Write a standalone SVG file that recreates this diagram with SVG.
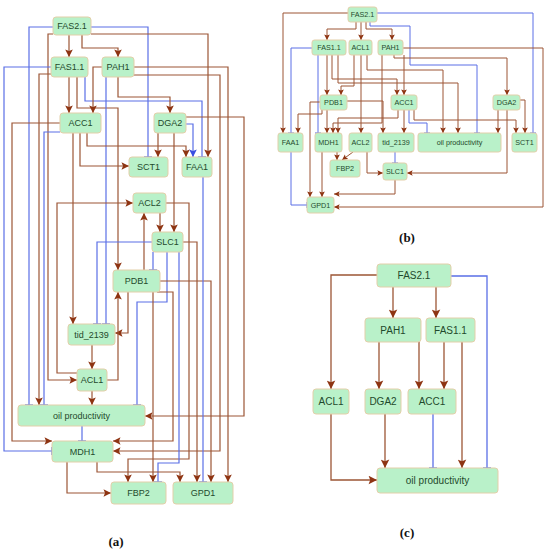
<svg xmlns="http://www.w3.org/2000/svg" width="548" height="550" viewBox="0 0 548 550">
<defs>
<marker id="arA" viewBox="-8 -4 8 8" refX="0" refY="0" markerWidth="8" markerHeight="8" markerUnits="userSpaceOnUse" orient="auto"><path d="M0,0 L-7.5,-3.8 L-6,0 L-7.5,3.8 z" fill="#8e3412"/></marker>
<marker id="tA" viewBox="-2 -5 4 10" refX="0" refY="0" markerWidth="4" markerHeight="10" markerUnits="userSpaceOnUse" orient="auto"><path d="M0,-4 V4" stroke="#4a64e0" stroke-width="1.3"/></marker>
<marker id="abA" viewBox="-8 -4 8 8" refX="0" refY="0" markerWidth="8" markerHeight="8" markerUnits="userSpaceOnUse" orient="auto"><path d="M0,0 L-7.5,-3.8 L-6,0 L-7.5,3.8 z" fill="#3a4ee0"/></marker>
<marker id="arB" viewBox="-8 -4 8 8" refX="0" refY="0" markerWidth="6" markerHeight="6" markerUnits="userSpaceOnUse" orient="auto"><path d="M0,0 L-7.5,-3.8 L-6,0 L-7.5,3.8 z" fill="#8e3412"/></marker>
<marker id="tB" viewBox="-2 -5 4 10" refX="0" refY="0" markerWidth="3" markerHeight="7.5" markerUnits="userSpaceOnUse" orient="auto"><path d="M0,-4 V4" stroke="#4a64e0" stroke-width="1.3"/></marker>
<marker id="arC" viewBox="-8 -4 8 8" refX="0" refY="0" markerWidth="9" markerHeight="9" markerUnits="userSpaceOnUse" orient="auto"><path d="M0,0 L-7.5,-3.8 L-6,0 L-7.5,3.8 z" fill="#8e3412"/></marker>
<marker id="tC" viewBox="-2 -5 4 10" refX="0" refY="0" markerWidth="4" markerHeight="11" markerUnits="userSpaceOnUse" orient="auto"><path d="M0,-4 V4" stroke="#4a64e0" stroke-width="1.3"/></marker>
</defs>
<style>
.n rect{fill:#b9f1c9;stroke:#e3cfa9;stroke-width:1}
.n text{font-family:"Liberation Sans",Arial,sans-serif;fill:#1f4a2c;text-anchor:middle;dominant-baseline:central}
.na text{font-size:9px}
.nb text{font-size:7.2px}
.nc text{font-size:10px}
.e{fill:none;stroke-width:1.2}
.br{stroke:#9c5535}
.bl{stroke:#5a6fe6}
.ga .br{marker-end:url(#arA)}
.ga .bl{marker-end:url(#tA)}
.gb .e{stroke-width:1}
.gb .br{marker-end:url(#arB)}
.gb .bl{marker-end:url(#tB)}
.gc .e{stroke-width:1.3}
.gc .br{marker-end:url(#arC)}
.gc .bl{marker-end:url(#tC)}
.lbl{font-family:"Liberation Serif","Times New Roman",serif;font-weight:bold;font-size:13px;fill:#111;text-anchor:middle}
</style>
<rect width="548" height="550" fill="#fff"/>

<!-- (a) connectors -->
<g id="connectors-a" class="ga">
<path class="e br" d="M69,35 V57"/>
<path class="e br" d="M82,35 V48 H118 V57"/>
<path class="e bl" d="M53,27 H29 V405"/>
<path class="e bl" d="M91,27 H148 V157"/>
<path class="e br" d="M91,34 H208 V157"/>
<path class="e br" d="M53,34 H48 V380 H77"/>
<path class="e br" d="M69,77 V113"/>
<path class="e bl" d="M51,67 H4 V451 H52"/>
<path class="e br" d="M51,74 H39 V405"/>
<path class="e br" d="M77,77 V108 H118 V270"/>
<path class="e bl" d="M85,77 V101 H202 V157"/>
<path class="e br" d="M102,67 H93 V113"/>
<path class="e br" d="M118,77 V97 H170 V113"/>
<path class="e bl" d="M106,77 V324"/>
<path class="e br" d="M134,67 H228 V482"/>
<path class="e br" d="M134,75 H220 V451 H113"/>
<path class="e br" d="M60,123 H12 V441 H52"/>
<path class="e bl" d="M60,132 H44 V405"/>
<path class="e br" d="M73,133 V324"/>
<path class="e br" d="M80,133 V166 H129"/>
<path class="e br" d="M87,133 V146 H186 V157"/>
<path class="e br" d="M158,133 V157"/>
<path class="e br" d="M174,133 V232"/>
<path class="e bl" d="M186,124 H193 V157" style="marker-end:url(#abA)"/>
<path class="e br" d="M186,117 H244 V416 H145"/>
<path class="e br" d="M160,213 V232"/>
<path class="e br" d="M166,203 H189 V459 H128 V482"/>
<path class="e br" d="M144,270 V213"/>
<path class="e bl" d="M153,252 V270"/>
<path class="e bl" d="M167,252 V302 H137 V405"/>
<path class="e bl" d="M152,242 H97 V324"/>
<path class="e br" d="M183,242 H197 V482"/>
<path class="e bl" d="M179,252 V463 H158 V482"/>
<path class="e br" d="M128,292 V333 H115"/>
<path class="e br" d="M157,292 H173 V441 H113"/>
<path class="e br" d="M160,281 H211 V482"/>
<path class="e br" d="M153,292 V482"/>
<path class="e br" d="M107,380 H118 V292"/>
<path class="e br" d="M92,345 V369"/>
<path class="e br" d="M77,373 H57 V203 H133"/>
<path class="e br" d="M92,391 V405"/>
<path class="e bl" d="M82,426 V441"/>
<path class="e br" d="M67,462 V493 H111"/>
<path class="e br" d="M97,462 V472 H180 V482"/>
<path class="e bl" d="M203,177 V482"/>
</g>

<!-- (a) nodes -->
<g id="a-FAS2.1" class="n na"><rect x="53" y="17" width="38" height="18" rx="3"/><text x="72" y="26">FAS2.1</text></g>
<g id="a-FAS1.1" class="n na"><rect x="51" y="57" width="37" height="20" rx="3"/><text x="69.5" y="67">FAS1.1</text></g>
<g id="a-PAH1" class="n na"><rect x="102" y="57" width="32" height="20" rx="3"/><text x="118" y="67">PAH1</text></g>
<g id="a-ACC1" class="n na"><rect x="60" y="113" width="41" height="20" rx="3"/><text x="80.5" y="123">ACC1</text></g>
<g id="a-DGA2" class="n na"><rect x="154" y="113" width="32" height="20" rx="3"/><text x="170" y="123">DGA2</text></g>
<g id="a-SCT1" class="n na"><rect x="129" y="157" width="39" height="20" rx="3"/><text x="148.5" y="167">SCT1</text></g>
<g id="a-FAA1" class="n na"><rect x="182" y="157" width="30" height="20" rx="3"/><text x="197" y="167">FAA1</text></g>
<g id="a-ACL2" class="n na"><rect x="133" y="193" width="33" height="20" rx="3"/><text x="149.5" y="203">ACL2</text></g>
<g id="a-SLC1" class="n na"><rect x="152" y="232" width="31" height="20" rx="3"/><text x="167.5" y="242">SLC1</text></g>
<g id="a-PDB1" class="n na"><rect x="113" y="270" width="47" height="22" rx="3"/><text x="136.5" y="281">PDB1</text></g>
<g id="a-tid_2139" class="n na"><rect x="68" y="324" width="47" height="21" rx="3"/><text x="91.5" y="334.5">tid_2139</text></g>
<g id="a-ACL1" class="n na"><rect x="77" y="369" width="30" height="22" rx="3"/><text x="92" y="380">ACL1</text></g>
<g id="a-oil" class="n na"><rect x="18" y="405" width="127" height="21" rx="3"/><text x="81.5" y="415.5">oil productivity</text></g>
<g id="a-MDH1" class="n na"><rect x="52" y="441" width="61" height="21" rx="3"/><text x="82.5" y="451.5">MDH1</text></g>
<g id="a-FBP2" class="n na"><rect x="111" y="482" width="55" height="22" rx="3"/><text x="138.5" y="493">FBP2</text></g>
<g id="a-GPD1" class="n na"><rect x="173" y="482" width="60" height="22" rx="3"/><text x="203" y="493">GPD1</text></g>
<text class="lbl" x="116" y="546">(a)</text>

<!-- (b) connectors -->
<g id="connectors-b" class="gb">
<path class="e br" d="M348,13 H283 V133"/>
<path class="e bl" d="M377,13 H533 V133"/>
<path class="e br" d="M356,22 V29 H327 V40"/>
<path class="e br" d="M361,22 V40"/>
<path class="e br" d="M366,22 V29 H392 V40"/>
<path class="e bl" d="M370,22 V26 H410 V65 H477 V133"/>
<path class="e br" d="M403,48 H543 V207 H334"/>
<path class="e br" d="M394,55 V58 H507 V95"/>
<path class="e bl" d="M312,48 H291 V133"/>
<path class="e bl" d="M318,55 V133"/>
<path class="e br" d="M327,55 V95"/>
<path class="e br" d="M332,55 V79 H397 V95"/>
<path class="e br" d="M338,55 V83 H458 V133"/>
<path class="e br" d="M354,55 V86 H341 V95"/>
<path class="e br" d="M361,55 V133"/>
<path class="e br" d="M367,55 V70 H443 V133"/>
<path class="e br" d="M404,55 V95"/>
<path class="e br" d="M382,55 V123 H333 V133"/>
<path class="e br" d="M320,102 H310 V197"/>
<path class="e br" d="M322,110 V114 H298 V133"/>
<path class="e br" d="M347,101 H383 V133"/>
<path class="e br" d="M327,110 V133"/>
<path class="e br" d="M404,110 V133"/>
<path class="e br" d="M398,110 V118 H338 V133"/>
<path class="e bl" d="M409,110 V123 H427 V133"/>
<path class="e br" d="M414,110 V120 H516 V133"/>
<path class="e br" d="M520,100 H525 V133"/>
<path class="e br" d="M498,110 V133"/>
<path class="e br" d="M507,110 V173 H407"/>
<path class="e br" d="M367,152 V173 H383"/>
<path class="e br" d="M353,152 L342,160"/>
<path class="e br" d="M337,152 V160"/>
<path class="e br" d="M322,152 V197"/>
<path class="e bl" d="M395,152 V163"/>
<path class="e br" d="M395,180 V194 H334"/>
<path class="e bl" d="M291,152 V205 H307"/>
</g>

<!-- (b) nodes -->
<g id="b-FAS2.1" class="n nb"><rect x="348" y="7" width="29" height="15" rx="2.5"/><text x="362.5" y="14.5">FAS2.1</text></g>
<g id="b-FAS1.1" class="n nb"><rect x="312" y="40" width="34" height="15" rx="2.5"/><text x="329" y="47.5">FAS1.1</text></g>
<g id="b-ACL1" class="n nb"><rect x="349" y="40" width="23" height="15" rx="2.5"/><text x="360.5" y="47.5">ACL1</text></g>
<g id="b-PAH1" class="n nb"><rect x="378" y="40" width="25" height="15" rx="2.5"/><text x="390.5" y="47.5">PAH1</text></g>
<g id="b-PDB1" class="n nb"><rect x="320" y="95" width="27" height="15" rx="2.5"/><text x="333.5" y="102.5">PDB1</text></g>
<g id="b-ACC1" class="n nb"><rect x="391" y="95" width="26" height="15" rx="2.5"/><text x="404" y="102.5">ACC1</text></g>
<g id="b-DGA2" class="n nb"><rect x="493" y="95" width="27" height="15" rx="2.5"/><text x="506.5" y="102.5">DGA2</text></g>
<g id="b-FAA1" class="n nb"><rect x="278" y="133" width="25" height="19" rx="2.5"/><text x="290.5" y="142.5">FAA1</text></g>
<g id="b-MDH1" class="n nb"><rect x="315" y="133" width="27" height="19" rx="2.5"/><text x="328.5" y="142.5">MDH1</text></g>
<g id="b-ACL2" class="n nb"><rect x="349" y="133" width="23" height="19" rx="2.5"/><text x="360.5" y="142.5">ACL2</text></g>
<g id="b-tid_2139" class="n nb"><rect x="378" y="133" width="36" height="19" rx="2.5"/><text x="396" y="142.5">tid_2139</text></g>
<g id="b-oil" class="n nb"><rect x="418" y="133" width="83" height="19" rx="2.5"/><text x="459.5" y="142.5">oil productivity</text></g>
<g id="b-SCT1" class="n nb"><rect x="512" y="133" width="25" height="19" rx="2.5"/><text x="524.5" y="142.5">SCT1</text></g>
<g id="b-FBP2" class="n nb"><rect x="330" y="160" width="30" height="17" rx="2.5"/><text x="345" y="168.5">FBP2</text></g>
<g id="b-SLC1" class="n nb"><rect x="383" y="163" width="24" height="17" rx="2.5"/><text x="395" y="171.5">SLC1</text></g>
<g id="b-GPD1" class="n nb"><rect x="307" y="197" width="27" height="16" rx="2.5"/><text x="320.5" y="205">GPD1</text></g>
<text class="lbl" x="407" y="242">(b)</text>

<!-- (c) connectors -->
<g id="connectors-c" class="gc">
<path class="e br" d="M377,275 H331 V389"/>
<path class="e br" d="M393,287 V318"/>
<path class="e br" d="M436,287 V318"/>
<path class="e bl" d="M451,276 H487 V468"/>
<path class="e br" d="M379,342 V389"/>
<path class="e br" d="M419,342 V389"/>
<path class="e br" d="M444,342 V389"/>
<path class="e br" d="M462,342 V468"/>
<path class="e bl" d="M433,414 V468"/>
<path class="e br" d="M385,414 V468"/>
<path class="e br" d="M331,414 V480 H377"/>
</g>

<!-- (c) nodes -->
<g id="c-FAS2.1" class="n nc"><rect x="377" y="264" width="74" height="23" rx="3"/><text x="414" y="275.5">FAS2.1</text></g>
<g id="c-PAH1" class="n nc"><rect x="365" y="318" width="56" height="24" rx="3"/><text x="393" y="330">PAH1</text></g>
<g id="c-FAS1.1" class="n nc"><rect x="426" y="318" width="49" height="24" rx="3"/><text x="450.5" y="330">FAS1.1</text></g>
<g id="c-ACL1" class="n nc"><rect x="313" y="389" width="36" height="25" rx="3"/><text x="331" y="401.5">ACL1</text></g>
<g id="c-DGA2" class="n nc"><rect x="365" y="389" width="36" height="25" rx="3"/><text x="383" y="401.5">DGA2</text></g>
<g id="c-ACC1" class="n nc"><rect x="408" y="389" width="48" height="25" rx="3"/><text x="432" y="401.5">ACC1</text></g>
<g id="c-oil" class="n nc"><rect x="377" y="468" width="121" height="25" rx="3"/><text x="437.5" y="480.5">oil productivity</text></g>
<text class="lbl" x="407" y="537">(c)</text>
</svg>
